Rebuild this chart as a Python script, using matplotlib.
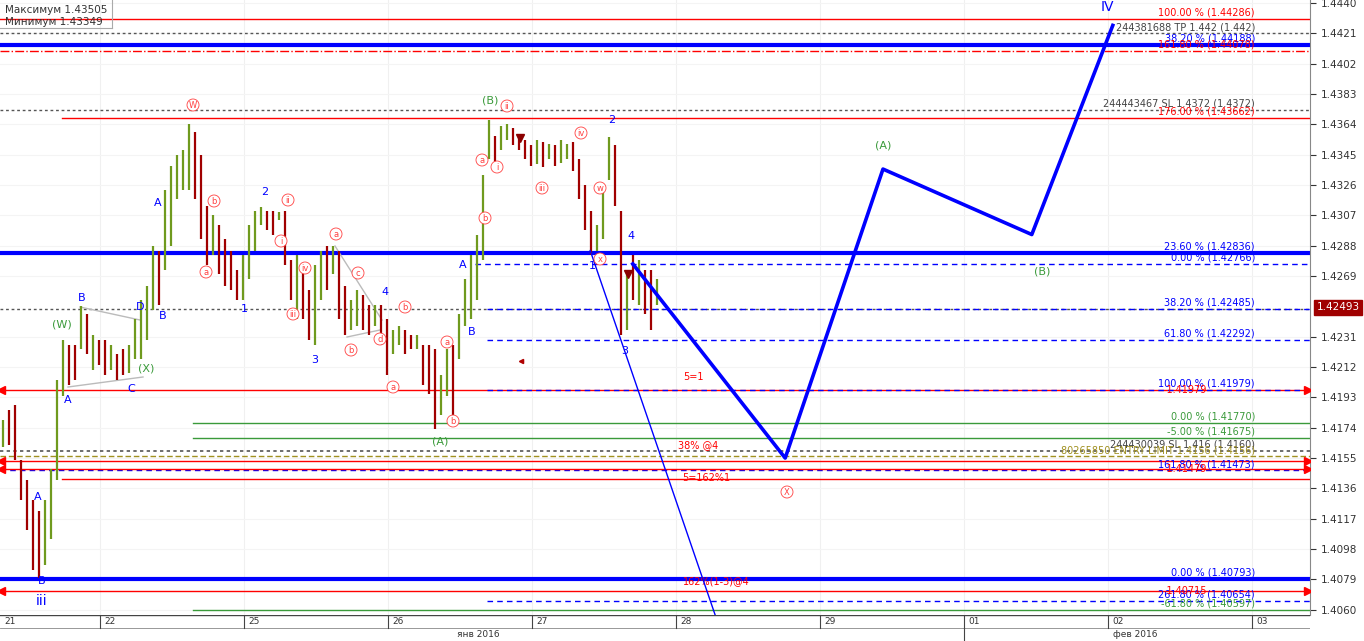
import matplotlib
matplotlib.use("Agg")
import matplotlib.pyplot as plt
import numpy as np

# ---- data (hourly bars, x in hours from start of 21 Jan) ----
bar_start = 7.83
highs = [1.4179,1.4185,1.4188,1.4154,1.4141,1.4129,1.4122,1.4129,1.4148,1.4204,1.4229,1.4226,1.4226,1.4250,1.4245,1.4232,1.4229,1.4229,1.4226,1.4220,1.4223,1.4226,1.4242,1.4254,1.4263,1.4288,1.4285,1.4323,1.4338,1.4345,1.4348,1.4364,1.4359,1.4345,1.4313,1.4307,1.4301,1.4292,1.4285,1.4273,1.4282,1.4301,1.4310,1.4312,1.4310,1.4310,1.4309,1.4310,1.4279,1.4282,1.4276,1.4260,1.4276,1.4285,1.4288,1.4288,1.4285,1.4263,1.4254,1.4260,1.4257,1.4251,1.4251,1.4251,1.4242,1.4235,1.4238,1.4235,1.4232,1.4232,1.4226,1.4226,1.4223,1.4207,1.4223,1.4226,1.4245,1.4267,1.4282,1.4295,1.4332,1.4367,1.4357,1.4363,1.4364,1.4362,1.4357,1.4354,1.4351,1.4354,1.4353,1.4352,1.4351,1.4354,1.4352,1.4353,1.4342,1.4326,1.4310,1.4301,1.4323,1.4356,1.4351,1.4310,1.4273,1.4282,1.4279,1.4273,1.4273,1.4267]
lows  = [1.4162,1.4163,1.4154,1.4129,1.4110,1.4085,1.4080,1.4088,1.4104,1.4141,1.4194,1.4201,1.4204,1.4223,1.4220,1.4210,1.4213,1.4207,1.4210,1.4204,1.4207,1.4208,1.4217,1.4217,1.4229,1.4248,1.4251,1.4273,1.4288,1.4317,1.4323,1.4323,1.4317,1.4292,1.4276,1.4282,1.4270,1.4263,1.4260,1.4254,1.4254,1.4267,1.4285,1.4301,1.4298,1.4295,1.4304,1.4276,1.4254,1.4242,1.4242,1.4229,1.4226,1.4254,1.4260,1.4270,1.4242,1.4232,1.4235,1.4238,1.4235,1.4232,1.4238,1.4226,1.4207,1.4220,1.4226,1.4220,1.4223,1.4223,1.4201,1.4195,1.4173,1.4182,1.4194,1.4179,1.4217,1.4238,1.4242,1.4254,1.4279,1.4342,1.4338,1.4348,1.4354,1.4351,1.4348,1.4342,1.4338,1.4339,1.4337,1.4342,1.4338,1.4340,1.4342,1.4335,1.4317,1.4298,1.4282,1.4285,1.4292,1.4329,1.4313,1.4232,1.4235,1.4254,1.4251,1.4245,1.4235,1.4251]
direction = [1,-1,-1,-1,-1,-1,-1,1,1,1,1,-1,-1,1,-1,1,-1,-1,1,-1,-1,1,1,1,1,1,-1,1,1,1,1,1,-1,-1,-1,1,-1,-1,-1,-1,1,1,1,1,-1,-1,1,-1,-1,1,-1,-1,1,1,-1,1,-1,-1,1,1,-1,-1,1,-1,-1,1,1,-1,-1,1,-1,-1,-1,1,1,-1,1,1,1,1,1,1,-1,1,1,-1,-1,-1,-1,1,-1,1,-1,1,1,-1,-1,-1,-1,1,1,1,-1,-1,1,-1,1,-1,-1,1]

# projection paths (hours, price)
proj_x = [112.8, 138.2, 154.5, 179.3, 192.8]
proj_y = [1.42766, 1.4155, 1.4336, 1.4295, 1.4426]
thin_x = [105.7, 126.5]
thin_y = [1.4285, 1.4057]

# level lines: (price, x_start_hours, color, style, width, label)
levels = [
    (1.44300, 7.3, 'red', '-', 1.0, '100.00 % (1.44286)'),
    (1.44210, 7.3, '#555555', (0,(2,2)), 1.0, '244381688 TP 1.442 (1.442)'),
    (1.44140, 7.3, 'blue', '-', 3.0, '38.20 % (1.44188)'),
    (1.44100, 7.3, 'red', '-.', 1.0, '161.80 % (1.44078)'),
    (1.43730, 7.3, '#555555', (0,(2,2)), 1.0, '244443467 SL 1.4372 (1.4372)'),
    (1.43680, 17.7, 'red', '-', 1.0, '176.00 % (1.43662)'),
    (1.42836, 7.3, 'blue', '-', 3.0, '23.60 % (1.42836)'),
    (1.42766, 86.5, 'blue', (0,(4,3)), 1.0, '0.00 % (1.42766)'),
    (1.42485, 7.3, '#555555', (0,(2,2)), 1.0, ''),
    (1.42485, 88.5, 'blue', (0,(4,3)), 1.0, '38.20 % (1.42485)'),
    (1.42292, 88.5, 'blue', (0,(4,3)), 1.0, '61.80 % (1.42292)'),
    (1.41979, 7.3, 'red', '-', 1.0, ''),
    (1.41979, 88.5, 'blue', (0,(4,3)), 1.0, '100.00 % (1.41979)'),
    (1.41770, 39.5, '#3a9a3a', '-', 1.0, '0.00 % (1.41770)'),
    (1.41675, 39.5, '#3a9a3a', '-', 1.0, '-5.00 % (1.41675)'),
    (1.41596, 7.3, '#555555', (0,(2,2)), 1.2, '244430039 SL 1.416 (1.4160)'),
    (1.41560, 7.3, '#a09020', (0,(4,2)), 1.0, '80265850 ENTRY LIMIT 1.4156 (1.4156)'),
    (1.41530, 7.3, 'red', '-', 1.0, ''),
    (1.41473, 7.3, 'blue', (0,(4,3)), 1.0, '161.80 % (1.41473)'),
    (1.41479, 7.3, 'red', '-', 1.0, ''),
    (1.41420, 17.7, 'red', '-', 1.0, ''),
    (1.40793, 7.3, 'blue', '-', 3.0, '0.00 % (1.40793)'),
    (1.40715, 7.3, 'red', '-', 1.0, ''),
    (1.40654, 88.5, 'blue', (0,(4,3)), 1.0, '261.80 % (1.40654)'),
    (1.40597, 39.5, '#3a9a3a', '-', 1.0, '-61.80 % (1.40597)'),
]
arrow_levels = [1.41979, 1.41530, 1.41479, 1.40715]
arrow_labels = {1.41979: '1.41979', 1.41479: '1.41479', 1.40715: '1.40715'}

yticks = [1.4440,1.4421,1.4402,1.4383,1.4364,1.4345,1.4326,1.4307,1.4288,1.4269,1.4231,1.4212,1.4193,1.4174,1.4155,1.4136,1.4117,1.4098,1.4079,1.4060]
day_labels = ['21','22','25','26','27','28','29','01','02','03']
last_price = 1.42493

# ---- figure ----
W, H = 1364, 641
fig = plt.figure(figsize=(W/100, H/100), dpi=100)
ax = fig.add_axes([0, 26/H, 1310/W, 615/H])
X0, X1 = 7.33, 225.67
Y0, Y1 = 1.40567, 1.44419
ax.set_xlim(X0, X1); ax.set_ylim(Y0, Y1)

def px(x):  # pixel -> hours (for annotations)
    return (x + 44) / 6.0
def py(y):
    return Y1 - y * (Y1 - Y0) / 615.0

# grid
for k in range(0, 10):
    ax.axvline(24*k, color='#f0f0f0', lw=0.8, zorder=0)
for t in yticks:
    ax.axhline(t, color='#f4f4f4', lw=0.8, zorder=0)

# bars
xs = bar_start + np.arange(len(highs))
cols = ['#6f9a1e' if d > 0 else '#a00000' for d in direction]
ax.vlines(xs, lows, highs, colors=cols, lw=1.6, zorder=3)

# levels
for p, xs0, c, ls, lw, lab in levels:
    ax.plot([xs0, X1], [p, p], color=c, ls=ls, lw=lw, zorder=2)
    if lab:
        ax.text(216.5, p + 0.00008, lab, color=c if c not in ('#555555',) else '#444444',
                fontsize=7, ha='right', va='bottom', zorder=5)
for p in arrow_levels:
    ax.plot([X0 + 0.2], [p], marker='<', color='red', ms=6, zorder=5)
    ax.plot([X1 - 0.4], [p], marker='>', color='red', ms=6, zorder=5)
    if p in arrow_labels:
        ax.text(208.5, p, '-' + arrow_labels[p], color='red', fontsize=7, ha='right', va='center', zorder=5)

# projections
ax.plot(proj_x, proj_y, color='blue', lw=2.6, zorder=4)
ax.plot(thin_x, thin_y, color='blue', lw=1.0, zorder=4)

# wedges
g = '#bbbbbb'
ax.plot([px(80), px(140)], [py(307), py(320)], color=g, lw=1)
ax.plot([px(68), px(143)], [py(387), py(377)], color=g, lw=1)
ax.plot([px(335), px(382)], [py(246), py(320)], color=g, lw=1)
ax.plot([px(347), px(380)], [py(337), py(330)], color=g, lw=1)

# markers
ax.plot([px(520)], [py(138)], marker='v', color='#8b0000', ms=6, zorder=6)
ax.plot([px(628)], [py(274)], marker='v', color='#8b0000', ms=6, zorder=6)
ax.plot([px(521)], [py(361)], marker='<', color='#b00000', ms=3, zorder=6)

# wave labels
def lab(x, y, s, c='blue', fs=8):
    ax.text(px(x), py(y), s, color=c, fontsize=fs, ha='center', va='center', zorder=7)
def circ(x, y, s, c='#ff4040', fs=6):
    ax.text(px(x), py(y), s, color=c, fontsize=fs, ha='center', va='center', zorder=7,
            bbox=dict(boxstyle='circle,pad=0.18', fc='white', ec=c, lw=0.6))

for x, y, s in [(38,497,'A'),(42,581,'B'),(68,400,'A'),(82,298,'B'),(131,389,'C'),(140,307,'D'),
                (158,203,'A'),(163,316,'B'),(244,309,'1'),(265,192,'2'),(315,360,'3'),(385,292,'4'),
                (463,265,'A'),(472,332,'B'),(592,266,'1'),(612,120,'2'),(625,351,'3'),(631,236,'4')]:
    lab(x, y, s)
lab(42, 601, 'iii', fs=10)
lab(1107, 7, 'IV', fs=10)
for x, y, s in [(62,324,'(W)'),(146,368,'(X)'),(490,100,'(B)'),(440,441,'(A)'),(883,145,'(A)'),(1042,271,'(B)')]:
    lab(x, y, s, c='#3a9a3a')
for x, y, s in [(193,105,'W'),(214,201,'b'),(206,272,'a'),(288,200,'ii'),(281,241,'i'),(293,314,'iii'),(305,268,'iv'),
                (336,234,'a'),(358,273,'c'),(351,350,'b'),(380,339,'d'),(405,307,'b'),(393,387,'a'),(447,342,'a'),(453,421,'b'),
                (482,160,'a'),(485,218,'b'),(497,167,'i'),(507,106,'ii'),(542,188,'iii'),(581,133,'iv'),(600,188,'w'),(600,259,'x'),
                (787,492,'X')]:
    circ(x, y, s)
ax.text(px(683), py(377), '5=1', color='red', fontsize=7, ha='left', va='center')
ax.text(px(678), py(445), '38% @4', color='red', fontsize=7, ha='left', va='center')
ax.text(px(682), py(478), '5=162%1', color='red', fontsize=7, ha='left', va='center')
ax.text(px(683), py(581), '162%(1-3)@4', color='red', fontsize=7, ha='left', va='center')

# info box
ax.text(px(5), py(10), 'Максимум 1.43505', fontsize=7.5, color='#333333', va='center')
ax.text(px(5), py(22), 'Минимум 1.43349', fontsize=7.5, color='#333333', va='center')
ax.plot([X0, px(112)], [py(28), py(28)], color='#aaaaaa', lw=0.8)
ax.plot([px(112), px(112)], [py(0), py(28)], color='#aaaaaa', lw=0.8)

# axes styling
ax.set_xticks([]); 
ax.yaxis.tick_right()
ax.set_yticks(yticks)
ax.set_yticklabels([f'{t:.4f}' for t in yticks], fontsize=7.5)
ax.tick_params(axis='y', length=4, width=0.8, colors='#333333')
for s in ['top', 'left', 'bottom']:
    ax.spines[s].set_visible(False)
ax.spines['right'].set_color('#888888')
ax.text(1.005, (last_price - Y0)/(Y1 - Y0), f'{last_price:.5f}', transform=ax.transAxes, color='white',
        fontsize=7.5, ha='left', va='center', bbox=dict(boxstyle='square,pad=0.25', fc='#a00000', ec='#a00000'), clip_on=False)

# bottom date axis
bx = fig.add_axes([0, 0, 1310/W, 26/H])
bx.set_xlim(X0, X1); bx.set_ylim(0, 26)
bx.axis('off')
bx.plot([X0, X1], [26, 26], color='#444444', lw=1)
bx.plot([X0, X1], [13, 13], color='#888888', lw=0.6)
for k, d in enumerate(day_labels):
    xk = 24*k
    if k > 0:
        bx.plot([xk, xk], [13, 26], color='#444444', lw=0.8)
    bx.text(max(xk, X0) + 0.8, 19.5, d, fontsize=6.5, va='center', ha='left', color='#333333')
bx.text(px(478), 6.5, 'янв 2016', fontsize=6.5, ha='center', va='center', color='#333333')
bx.plot([168, 168], [0, 13], color='#444444', lw=0.8)
bx.text(px(1135), 6.5, 'фев 2016', fontsize=6.5, ha='center', va='center', color='#333333')

fig.savefig('out.png', dpi=100, facecolor='white')
